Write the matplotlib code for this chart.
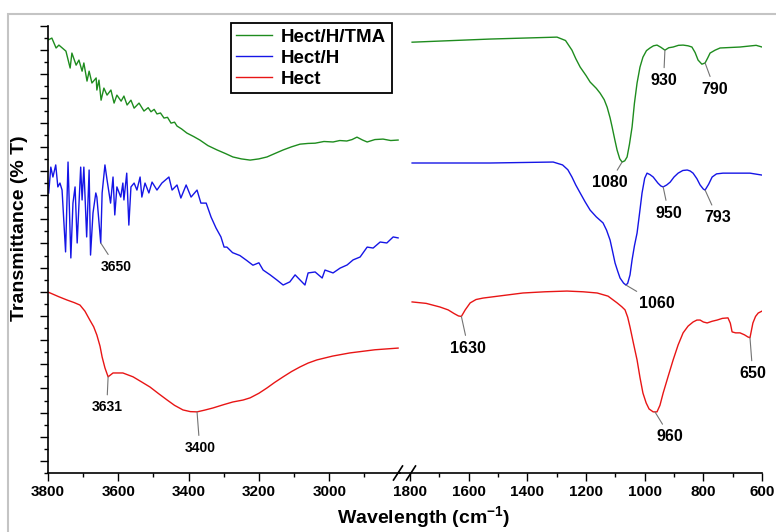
import matplotlib.pyplot as plt
from matplotlib.lines import Line2D
from matplotlib.patches import Rectangle

plt.rcParams['font.family'] = ['Liberation Sans', 'DejaVu Sans']
plt.rcParams['font.weight'] = 'bold'
plt.rcParams['mathtext.fontset'] = 'custom'
plt.rcParams['mathtext.rm'] = 'Liberation Sans:bold'
plt.rcParams['mathtext.bf'] = 'Liberation Sans:bold'

labels = ['Hect/H/TMA', 'Hect/H', 'Hect']
colors = ['#1e8c1e', '#1515e6', '#e81515']

# ---- high wavenumber part (3800 - 2800 cm-1) ----
tma_hi_w = [3800, 3789, 3777, 3769, 3749, 3737, 3732, 3720, 3712, 3703, 3698, 3689, 3683,
            3675, 3663, 3661, 3655, 3649, 3641, 3632, 3621, 3612, 3604, 3592, 3584, 3575,
            3564, 3555, 3541, 3527, 3515, 3507, 3498, 3490, 3480, 3470, 3460, 3450, 3440,
            3433, 3420, 3405, 3385, 3368, 3345, 3319, 3295, 3274, 3250, 3225, 3200, 3177,
            3155, 3131, 3107, 3083, 3060, 3040, 3015, 2989, 2970, 2950, 2935, 2921, 2905,
            2892, 2870, 2847, 2825, 2804]
tma_hi_t = [17.42, 17.50, 17.09, 17.21, 16.96, 16.26, 16.88, 16.38, 16.59, 16.13, 16.47,
            15.72, 16.13, 15.64, 15.85, 15.35, 15.76, 14.93, 15.43, 15.14, 15.35, 14.81,
            15.14, 14.89, 15.10, 14.73, 14.93, 14.60, 14.81, 14.48, 14.62, 14.45, 14.55,
            14.36, 14.40, 14.19, 14.22, 13.98, 14.02, 13.86, 13.74, 13.57, 13.42, 13.28,
            13.05, 12.87, 12.72, 12.58, 12.50, 12.45, 12.50, 12.58, 12.72, 12.87, 13.00,
            13.11, 13.14, 13.15, 13.22, 13.20, 13.26, 13.24, 13.30, 13.40, 13.28, 13.20,
            13.30, 13.32, 13.26, 13.28]

h_hi_w = [3798, 3792, 3786, 3778, 3772, 3766, 3760, 3750, 3743, 3735, 3729, 3723, 3717,
          3707, 3703, 3698, 3690, 3683, 3679, 3672, 3664, 3661, 3650, 3646, 3638, 3632,
          3622, 3615, 3610, 3604, 3593, 3587, 3584, 3576, 3570, 3564, 3555, 3547, 3538,
          3533, 3524, 3513, 3504, 3490, 3476, 3456, 3447, 3433, 3422, 3407, 3393, 3376,
          3365, 3350, 3336, 3322, 3308, 3299, 3291, 3275, 3254, 3235, 3217, 3200, 3188,
          3168, 3149, 3131, 3112, 3097, 3083, 3069, 3060, 3040, 3020, 3012, 2989, 2969,
          2949, 2932, 2912, 2892, 2875, 2855, 2836, 2818, 2804]
h_hi_t = [11.09, 12.16, 11.75, 12.25, 11.34, 11.50, 11.21, 8.65, 12.37, 8.40, 10.67, 11.34,
          9.02, 12.16, 10.80, 12.16, 9.27, 12.04, 8.52, 10.26, 11.09, 10.92, 9.02, 11.09,
          12.25, 11.63, 10.67, 11.75, 10.18, 11.34, 10.92, 11.50, 10.80, 11.91, 9.76, 11.34,
          11.50, 11.21, 11.75, 10.92, 11.50, 11.09, 11.54, 11.21, 11.50, 11.75, 11.21, 11.42,
          10.88, 11.42, 10.92, 11.21, 10.67, 10.67, 10.09, 9.64, 9.27, 8.85, 8.85, 8.62,
          8.50, 8.30, 8.10, 8.20, 7.90, 7.70, 7.49, 7.28, 7.41, 7.70, 7.49, 7.28, 7.78,
          7.82, 7.57, 7.90, 7.78, 7.98, 8.11, 8.32, 8.44, 8.85, 8.81, 9.06, 9.02, 9.27,
          9.23]

hect_hi_w = [3800, 3770, 3746, 3725, 3709, 3695, 3681, 3670, 3661, 3652, 3646, 3638, 3629,
             3615, 3587, 3558, 3535, 3510, 3485, 3461, 3440, 3416, 3395, 3376, 3355, 3331,
             3300, 3274, 3245, 3225, 3200, 3177, 3155, 3131, 3107, 3083, 3060, 3035, 2990,
             2941, 2870, 2804]
hect_hi_t = [6.99, 6.80, 6.66, 6.55, 6.45, 6.20, 5.83, 5.55, 5.21, 4.75, 4.30, 3.85, 3.48,
             3.64, 3.64, 3.48, 3.28, 3.06, 2.78, 2.52, 2.30, 2.11, 2.04, 2.03, 2.10, 2.19,
             2.33, 2.44, 2.52, 2.61, 2.80, 3.02, 3.25, 3.48, 3.70, 3.89, 4.05, 4.18, 4.34,
             4.47, 4.60, 4.67]

# ---- fingerprint part (1800 - 600 cm-1) ----
tma_lo_w = [1793, 1527, 1299, 1270, 1248, 1235, 1220, 1200, 1186, 1165, 1152, 1138,
            1128, 1118, 1111, 1102, 1094, 1085, 1077, 1068, 1060, 1052, 1043, 1035, 1026,
            1016, 1006, 994, 982, 970, 958, 945, 931, 918, 903, 885, 869, 852, 839, 828,
            818, 805, 794, 785, 777, 760, 743, 675, 620, 600]
tma_lo_t = [17.33, 17.46, 17.54, 17.40, 17.00, 16.65, 16.30, 15.95, 15.68, 15.42,
            15.22, 14.95, 14.64, 14.20, 13.82, 13.30, 12.86, 12.50, 12.37, 12.42, 12.58,
            13.10, 13.82, 14.80, 15.64, 16.30, 16.71, 16.98, 17.09, 17.18, 17.21, 17.12,
            17.00, 17.10, 17.13, 17.20, 17.21, 17.18, 17.13, 16.90, 16.59, 16.42, 16.47,
            16.68, 16.88, 17.00, 17.09, 17.13, 17.20, 17.13]

h_lo_w = [1793, 1527, 1312, 1280, 1262, 1248, 1235, 1220, 1203, 1186, 1165, 1142,
          1130, 1118, 1110, 1101, 1092, 1084, 1072, 1064, 1058, 1050, 1043, 1035, 1026,
          1018, 1009, 1000, 992, 982, 971, 955, 945, 937, 925, 913, 900, 886, 870, 855,
          845, 835, 822, 811, 800, 794, 782, 770, 755, 733, 641, 600]
h_lo_t = [12.33, 12.33, 12.37, 12.25, 12.05, 11.75, 11.42, 11.09, 10.72, 10.38,
          10.10, 9.85, 9.55, 9.14, 8.70, 8.19, 7.85, 7.57, 7.36, 7.28, 7.35, 7.70, 8.32,
          8.90, 9.43, 10.20, 11.09, 11.70, 11.91, 11.85, 11.75, 11.50, 11.38, 11.34, 11.42,
          11.54, 11.75, 11.91, 12.02, 12.04, 12.00, 11.91, 11.68, 11.42, 11.25, 11.21,
          11.45, 11.75, 11.88, 11.91, 11.91, 11.83]

hect_lo_w = [1793, 1745, 1698, 1670, 1650, 1635, 1625, 1612, 1595, 1575, 1551, 1480,
             1415, 1340, 1265, 1210, 1162, 1125, 1094, 1078, 1067, 1058, 1050, 1038, 1026,
             1016, 1006, 995, 985, 971, 958, 948, 937, 920, 903, 886, 869, 852, 835, 822,
             811, 800, 787, 770, 753, 735, 716, 708, 702, 690, 675, 660, 648, 641, 631, 622,
             613, 600]
hect_lo_t = [6.58, 6.52, 6.37, 6.25, 6.10, 6.00, 5.98, 6.25, 6.54, 6.68, 6.74, 6.85,
             6.95, 7.00, 7.03, 7.00, 6.95, 6.82, 6.54, 6.38, 6.25, 5.95, 5.54, 4.85, 4.18,
             3.45, 2.81, 2.40, 2.15, 2.03, 2.03, 2.30, 2.81, 3.50, 4.18, 4.80, 5.30, 5.58,
             5.75, 5.83, 5.83, 5.75, 5.71, 5.78, 5.83, 5.90, 5.92, 5.70, 5.34, 5.30, 5.30,
             5.22, 5.13, 5.10, 5.71, 5.98, 6.12, 6.20]

# peak labels: (text, wavenumber, T, text offset in points)
peaks_hi = [('3650', 3650, 9.02, (11, -17)),
            ('3631', 3629, 3.48, (-1, -22)),
            ('3400', 3376, 2.03, (2, -26))]
peaks_lo = [('1080', 1077, 12.37, (-9, -15)),
            ('930', 931, 17.00, (-1, -22)),
            ('790', 794, 16.47, (7, -19)),
            ('950', 937, 11.34, (4, -19)),
            ('793', 794, 11.21, (9, -20)),
            ('1060', 1064, 7.28, (22, -13)),
            ('1630', 1625, 5.98, (5, -23)),
            ('960', 965, 2.03, (11, -18)),
            ('650', 641, 5.10, (2, -26))]

W, H = 776, 532
fig = plt.figure(figsize=(W / 100, H / 100), dpi=100)

bottom = 1 - 473 / H
height = 447 / H
ax1 = fig.add_axes([48 / W, bottom, 351.5 / W, height])
ax2 = fig.add_axes([399.5 / W, bottom, 362.5 / W, height])

lw = 1.0
ax1.plot(tma_hi_w, tma_hi_t, color=colors[0], lw=lw, label=labels[0])
ax1.plot(h_hi_w, h_hi_t, color=colors[1], lw=lw, label=labels[1])
ax1.plot(hect_hi_w, hect_hi_t, color=colors[2], lw=lw, label=labels[2])
ax2.plot(tma_lo_w, tma_lo_t, color=colors[0], lw=lw)
ax2.plot(h_lo_w, h_lo_t, color=colors[1], lw=lw)
ax2.plot(hect_lo_w, hect_lo_t, color=colors[2], lw=lw)

ax1.set_xlim(3800, 2800)
ax2.set_xlim(1836, 600)
for ax in (ax1, ax2):
    ax.set_ylim(-0.5, 18)
    ax.spines['top'].set_visible(False)
    ax.spines['right'].set_visible(False)
    ax.spines['bottom'].set_linewidth(1.2)
    ax.patch.set_alpha(0)
    ax.tick_params(axis='x', which='major', length=5.5, width=1, labelsize=11, pad=3)
    ax.tick_params(axis='x', which='minor', length=3, width=1)

ax1.set_xticks(range(3800, 2999, -200))
ax1.set_xticks(range(3700, 2899, -100), minor=True)
ax1.set_yticks(range(0, 19))
ax1.set_yticks([i + 0.5 for i in range(-1, 18)], minor=True)
ax1.tick_params(axis='y', which='major', length=5.5, width=1, labelleft=False)
ax1.tick_params(axis='y', which='minor', length=3, width=1)
ax1.spines['left'].set_linewidth(1.2)

ax2.set_xticks(range(1800, 599, -200))
ax2.set_xticks(range(1700, 699, -100), minor=True)
ax2.set_yticks([])
ax2.spines['left'].set_visible(False)

for ax, peaks, fs in ((ax1, peaks_hi, 10), (ax2, peaks_lo, 11.5)):
    for txt, w, t, off in peaks:
        ax.annotate(txt, xy=(w, t), xytext=off, textcoords='offset points',
                    ha='center', va='center', fontsize=fs,
                    arrowprops=dict(arrowstyle='-', color='0.45', lw=0.8,
                                    shrinkA=2, shrinkB=0))

leg = ax1.legend(loc='upper right', bbox_to_anchor=(392 / W, 1 - 23 / H),
                 bbox_transform=fig.transFigure, fontsize=13.5, fancybox=False,
                 edgecolor='black', framealpha=1, handlelength=1.9, handletextpad=0.5,
                 labelspacing=0.2, borderpad=0.3, borderaxespad=0)
leg.get_frame().set_linewidth(1.3)


def px(x, y):
    return x / W, 1 - y / H


# axis break marks
for cx in (398, 411):
    (x0, y0), (x1, y1) = px(cx - 4.5, 480), px(cx + 4.5, 466)
    fig.add_artist(Line2D([x0, x1], [y0, y1], color='black', lw=1.2,
                          transform=fig.transFigure))

fig.text(*px(424, 518), 'Wavelength (cm$^{-1}$)', ha='center', va='center',
         fontsize=14)
fig.text(*px(20, 228), 'Transmittance (% T)', ha='center', va='center',
         rotation=90, fontsize=14)

# light grey frame of the original figure
x0, y0 = px(8, 532 + 20)
fig.add_artist(Rectangle((x0, y0), 1.2, 1 - y0 - 14 / H, fill=False,
                         edgecolor='#c4c4c4', lw=1.5, transform=fig.transFigure))

fig.savefig('out.png', dpi=100)
